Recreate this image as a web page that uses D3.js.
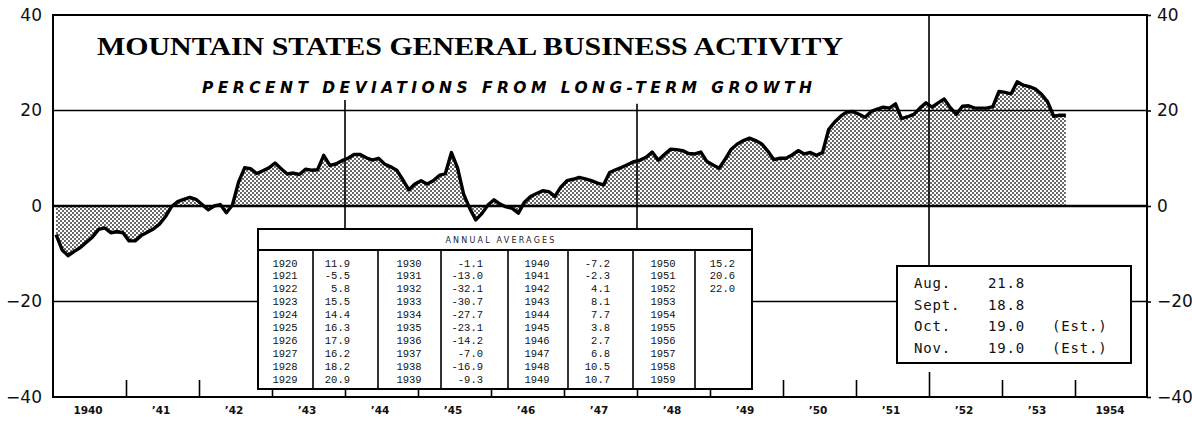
<!DOCTYPE html>
<html>
<head>
<meta charset="utf-8">
<script src="https://cdn.jsdelivr.net/npm/d3@7"></script>
<style>
body { margin: 0; background: #fff; }
.axis path.domain { display: none; }
</style>
</head>
<body>
<div id="chart"></div>
<script>
// monthly percent deviations, Jan 1940 .. Nov 1953
var startYear = 1940;
var activity = [
  -6.0, -9.2, -10.4, -9.5, -8.7, -7.6, -6.5, -4.9, -4.6, -5.6, -5.4, -5.6,   // 1940
  -7.3, -7.3, -6.2, -5.5, -4.8, -3.8, -2.2, -0.1, 0.9, 1.4, 1.8, 1.4,        // 1941
  0.3, -0.8, 0.0, 0.3, -1.4, 0.2, 5.0, 8.0, 7.8, 6.8, 7.4, 8.0,              // 1942
  9.0, 7.8, 6.7, 6.9, 6.6, 7.7, 7.5, 7.6, 10.6, 8.5, 8.8, 9.5,               // 1943
  10.0, 10.8, 10.8, 10.1, 9.6, 10.0, 8.8, 8.2, 7.5, 5.5, 3.4, 4.6,           // 1944
  5.3, 4.6, 5.3, 6.4, 6.8, 11.2, 8.0, 2.5, -0.5, -2.9, -1.6, 0.2,            // 1945
  1.3, 0.4, -0.2, -0.5, -1.5, 0.8, 2.0, 2.6, 3.2, 3.0, 2.0, 4.0,             // 1946
  5.3, 5.6, 6.0, 5.7, 5.3, 4.8, 4.4, 7.0, 7.6, 8.1, 8.7, 9.3,                // 1947
  9.6, 10.2, 11.3, 9.6, 10.8, 11.9, 11.8, 11.6, 11.0, 10.9, 11.3, 9.3,       // 1948
  8.6, 7.9, 9.8, 11.9, 13.0, 13.7, 14.2, 13.7, 13.0, 11.5, 9.7, 10.0,        // 1949
  10.0, 10.7, 11.6, 10.9, 11.2, 10.6, 11.2, 16.0, 17.6, 18.8, 19.7, 19.8,    // 1950
  19.2, 18.6, 19.8, 20.3, 20.7, 20.5, 21.4, 18.3, 18.7, 19.2, 20.5, 21.6,    // 1951
  20.7, 21.6, 22.4, 20.6, 19.2, 20.9, 21.0, 20.5, 20.5, 20.5, 20.8, 24.0,    // 1952
  23.8, 23.5, 26.0, 25.3, 25.0, 24.5, 23.4, 21.8, 18.8, 19.0, 19.0           // 1953
];

var yTicks = [-40, -20, 0, 20, 40];
var yearLabels = ["1940", "\u201941", "\u201942", "\u201943", "\u201944", "\u201945", "\u201946",
  "\u201947", "\u201948", "\u201949", "\u201950", "\u201951", "\u201952", "\u201953", "1954"];

// annual averages table
var decades = [1920, 1930, 1940, 1950];
var avg1920s = [11.9, -5.5, 5.8, 15.5, 14.4, 16.3, 17.9, 16.2, 18.2, 20.9];
var avg1930s = [-1.1, -13.0, -32.1, -30.7, -27.7, -23.1, -14.2, -7.0, -16.9, -9.3];
var avg1940s = [-7.2, -2.3, 4.1, 8.1, 7.7, 3.8, 2.7, 6.8, 10.5, 10.7];
var avg1950s = [15.2, 20.6, 22.0];

// latest months box
var recentMonths = ["Aug.", "Sept.", "Oct.", "Nov."];
var recentValues = [21.8, 18.8, 19.0, 19.0];
var recentNotes = ["", "", "(Est.)", "(Est.)"];

function init() {
  var width = 1192;
  var height = 424;
  var left = 53, right = 1148, top = 15, bottom = 397;

  var xScale = d3.scaleLinear()
                 .domain([1940, 1955])
                 .range([left, right]);
  var yScale = d3.scaleLinear()
                 .domain([-40, 40])
                 .range([bottom, top]);

  var svg = d3.select("#chart")
              .append("svg")
              .attr("width", width)
              .attr("height", height);

  var pat = svg.append("defs").append("pattern")
               .attr("id", "dots")
               .attr("width", 4)
               .attr("height", 4)
               .attr("patternUnits", "userSpaceOnUse");
  pat.append("rect").attr("width", 4).attr("height", 4).attr("fill", "#fff");
  pat.append("circle").attr("cx", 1).attr("cy", 1).attr("r", 0.9).attr("fill", "#222");
  pat.append("circle").attr("cx", 3).attr("cy", 3).attr("r", 0.9).attr("fill", "#222");

  var points = activity.map(function(v, i) {
    return [startYear + (i + 0.5) / 12, v];
  });

  // shaded area
  var area = d3.area()
               .x(function(d) { return xScale(d[0]); })
               .y0(yScale(0))
               .y1(function(d) { return yScale(d[1]); });
  svg.append("path")
     .datum(points)
     .attr("d", area)
     .attr("fill", "url(#dots)");

  // grid lines
  svg.selectAll(".grid")
     .data([20, -20])
     .enter()
     .append("line")
     .attr("class", "grid")
     .attr("x1", left)
     .attr("x2", right)
     .attr("y1", function(d) { return yScale(d); })
     .attr("y2", function(d) { return yScale(d); })
     .attr("stroke", "#000")
     .attr("stroke-width", 1.6);

  svg.append("line")
     .attr("x1", left)
     .attr("x2", right)
     .attr("y1", yScale(0))
     .attr("y2", yScale(0))
     .attr("stroke", "#000")
     .attr("stroke-width", 2.6);

  // vertical year markers
  var markers = [[1944, 22.2, -4.8], [1948, 21.4, -4.8], [1952, 40, -12.6]];
  svg.selectAll(".marker")
     .data(markers)
     .enter()
     .append("line")
     .attr("class", "marker")
     .attr("x1", function(d) { return xScale(d[0]); })
     .attr("x2", function(d) { return xScale(d[0]); })
     .attr("y1", function(d) { return yScale(d[1]); })
     .attr("y2", function(d) { return yScale(d[2]); })
     .attr("stroke", "#000")
     .attr("stroke-width", 1.6);

  // curve
  var line = d3.line()
               .x(function(d) { return xScale(d[0]); })
               .y(function(d) { return yScale(d[1]); });
  svg.append("path")
     .datum(points)
     .attr("d", line)
     .attr("fill", "none")
     .attr("stroke", "#000")
     .attr("stroke-width", 3.4)
     .attr("stroke-linejoin", "round");

  // frame
  svg.append("rect")
     .attr("x", left)
     .attr("y", top)
     .attr("width", right - left - 1)
     .attr("height", bottom - top)
     .attr("fill", "none")
     .attr("stroke", "#000")
     .attr("stroke-width", 2);

  // bottom ticks at year boundaries
  var tickAxis = d3.axisBottom(xScale)
                   .tickValues(d3.range(1941, 1955))
                   .tickSize(-17)
                   .tickFormat("");
  var ticks = svg.append("g")
                 .attr("class", "axis")
                 .attr("transform", "translate(0," + bottom + ")")
                 .call(tickAxis);
  ticks.selectAll("line")
       .attr("stroke-width", 1.6)
       .attr("y2", function(d) { return d == 1952 ? -25 : -17; });

  // year labels at mid-year
  var labelAxis = d3.axisBottom(xScale)
                    .tickValues(d3.range(1940, 1955).map(function(y) { return y + 0.5; }))
                    .tickSize(0)
                    .tickPadding(10)
                    .tickFormat(function(d, i) { return yearLabels[i]; });
  svg.append("g")
     .attr("class", "axis")
     .attr("transform", "translate(-2," + bottom + ")")
     .call(labelAxis)
     .selectAll("text")
     .attr("font-family", "DejaVu Sans")
     .attr("font-weight", "bold")
     .attr("font-size", "10.5px")
     .attr("fill", "#111");

  var yLeft = d3.axisLeft(yScale).tickValues(yTicks).tickSize(0).tickPadding(11);
  svg.append("g")
     .attr("class", "axis")
     .attr("transform", "translate(" + left + ",0)")
     .call(yLeft)
     .selectAll("text")
     .attr("font-family", "DejaVu Sans")
     .attr("font-size", "17px")
     .attr("fill", "#111");

  var yRight = d3.axisRight(yScale).tickValues(yTicks).tickSize(4).tickPadding(6);
  var gr = svg.append("g")
     .attr("class", "axis")
     .attr("transform", "translate(" + (right - 1) + ",0)")
     .call(yRight);
  gr.selectAll("line").attr("stroke-width", 1.6);
  gr.selectAll("text")
    .attr("font-family", "DejaVu Sans")
    .attr("font-size", "17px")
    .attr("fill", "#111");

  // title
  svg.append("text")
     .attr("x", 97)
     .attr("y", 55)
     .attr("textLength", 746)
     .attr("lengthAdjust", "spacingAndGlyphs")
     .attr("font-family", "Liberation Serif")
     .attr("font-weight", "bold")
     .attr("font-size", "26px")
     .attr("fill", "#000")
     .text("MOUNTAIN STATES GENERAL BUSINESS ACTIVITY");

  svg.append("text")
     .attr("x", 202)
     .attr("y", 93)
     .attr("textLength", 610)
     .attr("lengthAdjust", "spacing")
     .attr("font-family", "DejaVu Sans")
     .attr("font-style", "italic")
     .attr("font-weight", "bold")
     .attr("font-size", "15.5px")
     .attr("fill", "#000")
     .text("PERCENT DEVIATIONS FROM LONG-TERM GROWTH");

  // annual averages table
  var tX0 = 258, tX1 = 752, tY0 = 229, tY1 = 389, tHead = 250;
  var colEdges = [313, 378, 441, 508, 568, 633, 695];
  var yearX = [285, 409, 537, 663];
  var valueX = [350, 483, 610, 735];
  var tableData = [avg1920s, avg1930s, avg1940s, avg1950s];

  var table = svg.append("g");
  table.append("rect")
       .attr("x", tX0).attr("y", tY0)
       .attr("width", tX1 - tX0).attr("height", tY1 - tY0)
       .attr("fill", "#fff")
       .attr("stroke", "#000")
       .attr("stroke-width", 2);
  table.append("line")
       .attr("x1", tX0).attr("x2", tX1)
       .attr("y1", tHead).attr("y2", tHead)
       .attr("stroke", "#000").attr("stroke-width", 1.8);
  table.selectAll(".col")
       .data(colEdges)
       .enter()
       .append("line")
       .attr("x1", function(d) { return d; })
       .attr("x2", function(d) { return d; })
       .attr("y1", tHead).attr("y2", tY1)
       .attr("stroke", "#000").attr("stroke-width", 1.6);
  table.append("text")
       .attr("x", 501)
       .attr("y", 243)
       .attr("text-anchor", "middle")
       .attr("font-family", "DejaVu Sans")
       .attr("font-size", "8px")
       .attr("letter-spacing", "2.2px")
       .attr("fill", "#222")
       .text("ANNUAL AVERAGES");

  decades.forEach(function(dec, c) {
    d3.range(10).forEach(function(r) {
      var ty = 266.5 + r * 12.9;
      table.append("text")
           .attr("x", yearX[c]).attr("y", ty)
           .attr("text-anchor", "middle")
           .attr("font-family", "Liberation Mono")
           .attr("font-size", "10.5px")
           .attr("fill", "#111")
           .text(dec + r);
      if (r < tableData[c].length) {
        table.append("text")
             .attr("x", valueX[c]).attr("y", ty)
             .attr("text-anchor", "end")
             .attr("font-family", "Liberation Mono")
             .attr("font-size", "10.5px")
             .attr("fill", "#111")
             .text(tableData[c][r].toFixed(1));
      }
    });
  });

  // recent months box
  var box = svg.append("g");
  box.append("rect")
     .attr("x", 897).attr("y", 266)
     .attr("width", 234).attr("height", 97)
     .attr("fill", "#fff")
     .attr("stroke", "#000")
     .attr("stroke-width", 2);
  recentMonths.forEach(function(m, i) {
    var by = 288 + i * 21.5;
    box.append("text").attr("x", 914).attr("y", by)
       .attr("font-family", "DejaVu Sans Mono").attr("font-size", "14px")
       .attr("letter-spacing", "0.8px").attr("fill", "#111").text(m);
    box.append("text").attr("x", 988).attr("y", by)
       .attr("font-family", "DejaVu Sans Mono").attr("font-size", "14px")
       .attr("letter-spacing", "0.8px").attr("fill", "#111").text(recentValues[i].toFixed(1));
    box.append("text").attr("x", 1052).attr("y", by)
       .attr("font-family", "DejaVu Sans Mono").attr("font-size", "14px")
       .attr("letter-spacing", "0.8px").attr("fill", "#111").text(recentNotes[i]);
  });
}
window.onload = init;
</script>
</body>
</html>
